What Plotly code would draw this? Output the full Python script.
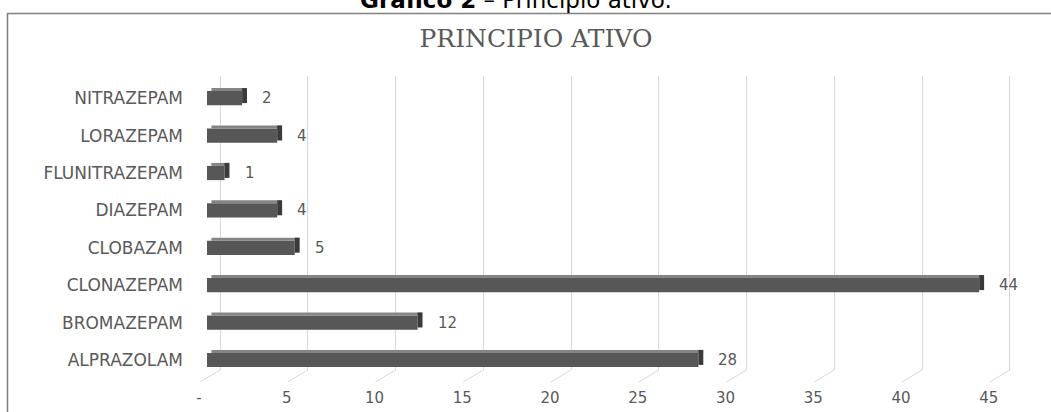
import plotly.graph_objects as go

# ---- data (top-to-bottom as in the picture) ----
categories = ['NITRAZEPAM', 'LORAZEPAM', 'FLUNITRAZEPAM', 'DIAZEPAM',
              'CLOBAZAM', 'CLONAZEPAM', 'BROMAZEPAM', 'ALPRAZOLAM']
values = [2, 4, 1, 4, 5, 44, 12, 28]
tick_vals = [0, 5, 10, 15, 20, 25, 30, 35, 40, 45]
tick_text = ['-', '5', '10', '15', '20', '25', '30', '35', '40', '45']

cats = categories[::-1]
vals = values[::-1]

# ---- layout geometry (pixels) ----
W, H = 1051, 412
L, R, T, B = 180, 1040, 76, 370
PPU = 17.55          # pixels per unit
BAR_ZERO, GRID_ZERO, LABEL_ZERO = 207, 220, 199

def xr(zero):
    return [(L - zero) / PPU, (R - zero) / PPU]

def px(X):
    return (X - L) / (R - L)

def py(Y):
    return (B - Y) / (B - T)

GRAY = '#595959'
FONT = 'DejaVu Sans'

fig = go.Figure()
# front face
fig.add_trace(go.Bar(x=vals, y=cats, orientation='h', width=0.38, offset=-0.19,
                     marker=dict(color='#575757', line=dict(width=0)),
                     hoverinfo='skip', showlegend=False))
# top face
fig.add_trace(go.Bar(x=vals, y=cats, base=0.25, orientation='h', width=0.08, offset=0.19,
                     marker=dict(color='#858585', line=dict(width=0)),
                     hoverinfo='skip', showlegend=False))
# side face
fig.add_trace(go.Bar(x=[0.28] * len(vals), y=cats, base=vals, orientation='h',
                     width=0.40, offset=-0.13,
                     marker=dict(color='#3a3a3a', line=dict(width=0)),
                     hoverinfo='skip', showlegend=False))

annotations = []
for c, v in zip(cats, vals):
    annotations.append(dict(x=v, y=c, xref='x', yref='y', text=str(v), showarrow=False,
                            xanchor='left', xshift=18,
                            font=dict(family=FONT, size=15, color=GRAY)))

annotations.append(dict(x=px(516), y=py(15), xref='paper', yref='paper',
                        text='<b>Gráfico 2</b> – Princípio ativo.', showarrow=False,
                        xanchor='center', yanchor='bottom',
                        font=dict(family='DejaVu Sans', size=23, color='#000000')))

shapes = [dict(type='rect', xref='paper', yref='paper',
               x0=px(7.5), x1=px(1070), y0=py(430), y1=py(13.5),
               line=dict(color='#808080', width=1.5), fillcolor='rgba(0,0,0,0)', layer='below')]
for t in tick_vals:
    shapes.append(dict(type='line', xref='x2', yref='paper',
                       x0=t, y0=0, x1=t - 20 / PPU, y1=-12 / (B - T),
                       line=dict(color='#d9d9d9', width=1), layer='below'))

# tick labels sit a little left of the bars' zero (3-D floor perspective)
label_shift = (LABEL_ZERO - BAR_ZERO) / PPU
label_pos = [t + label_shift for t in tick_vals]

fig.update_layout(
    width=W, height=H,
    margin=dict(l=L, r=W - R, t=T, b=H - B, autoexpand=False),
    paper_bgcolor='white', plot_bgcolor='white',
    barmode='overlay',
    showlegend=False,
    title=dict(text='PRINCIPIO ATIVO', x=536 / W, y=1 - 38.5 / H,
               xanchor='center', yanchor='middle',
               font=dict(family='DejaVu Serif', size=25, color=GRAY)),
    xaxis=dict(range=xr(BAR_ZERO), showgrid=False, zeroline=False, automargin=False,
               tickvals=label_pos, ticktext=tick_text, ticks='',
               ticklabelstandoff=17, showline=False,
               tickfont=dict(family=FONT, size=15, color=GRAY)),
    xaxis2=dict(range=xr(GRID_ZERO), overlaying='x', anchor='y', showgrid=True,
                gridcolor='#d9d9d9', gridwidth=1, zeroline=True, zerolinecolor='#d9d9d9',
                zerolinewidth=1, showticklabels=False, automargin=False,
                tickvals=tick_vals, showline=False, ticks=''),
    yaxis=dict(range=[-0.267, 7.594], showgrid=False, zeroline=False, ticks='',
               showline=False, ticklabelstandoff=-4, automargin=False,
               tickfont=dict(family=FONT, size=17, color=GRAY)),
    annotations=annotations,
    shapes=shapes,
)

fig.write_html('out.html')
